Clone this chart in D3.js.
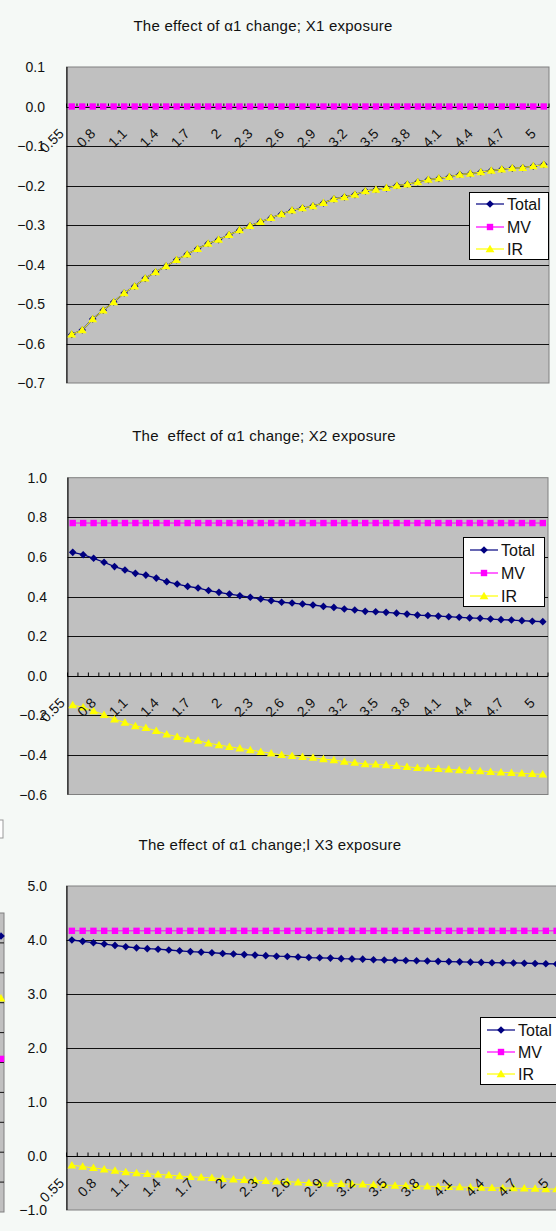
<!DOCTYPE html>
<html>
<head>
<meta charset="utf-8">
<script src="https://cdnjs.cloudflare.com/ajax/libs/d3/7.8.5/d3.min.js"></script>
<style>
body { margin:0; background:#f5f9f6; }
svg { display:block; }
text { font-family: "Liberation Sans", Arial, sans-serif; fill:#111; white-space: pre; }
</style>
</head>
<body>
<svg id="page" width="556" height="1231"></svg>
<script>
// alpha1 values on the category axis
var alphaCats = ["0.55","0.6","0.7","0.8","0.9","1","1.1","1.2","1.3","1.4","1.5","1.6","1.7","1.8","1.9",
  "2","2.1","2.2","2.3","2.4","2.5","2.6","2.7","2.8","2.9","3","3.1","3.2","3.3","3.4","3.5","3.6","3.7",
  "3.8","3.9","4","4.1","4.2","4.3","4.4","4.5","4.6","4.7","4.8","4.9","5"];
var seriesNames = ["Total","MV","IR"];

// X1 exposure
var x1Total = [-0.577,-0.566,-0.538,-0.516,-0.495,-0.472,-0.455,-0.435,-0.419,-0.404,-0.388,-0.374,-0.360,-0.347,-0.337,
  -0.325,-0.313,-0.302,-0.292,-0.282,-0.272,-0.263,-0.257,-0.252,-0.244,-0.234,-0.229,-0.223,-0.214,-0.210,-0.206,
  -0.200,-0.197,-0.191,-0.185,-0.182,-0.178,-0.172,-0.170,-0.166,-0.162,-0.159,-0.156,-0.155,-0.151,-0.147];
var x1MV = [0,0,0,0,0,0,0,0,0,0,0,0,0,0,0,0,0,0,0,0,0,0,0,0,0,0,0,0,0,0,0,0,0,0,0,0,0,0,0,0,0,0,0,0,0,0];
var x1IR = [-0.577,-0.566,-0.538,-0.516,-0.495,-0.472,-0.455,-0.435,-0.419,-0.404,-0.388,-0.374,-0.360,-0.347,-0.337,
  -0.325,-0.313,-0.302,-0.292,-0.282,-0.272,-0.263,-0.257,-0.252,-0.244,-0.234,-0.229,-0.223,-0.214,-0.210,-0.206,
  -0.200,-0.197,-0.191,-0.185,-0.182,-0.178,-0.172,-0.170,-0.166,-0.162,-0.159,-0.156,-0.155,-0.151,-0.147];

// X2 exposure
var x2Total = [0.623,0.611,0.593,0.573,0.551,0.534,0.517,0.508,0.493,0.475,0.463,0.451,0.443,0.430,0.421,0.412,
  0.404,0.396,0.387,0.379,0.371,0.367,0.362,0.357,0.350,0.345,0.337,0.332,0.325,0.323,0.320,0.316,0.311,0.306,
  0.304,0.301,0.298,0.295,0.292,0.290,0.286,0.283,0.281,0.278,0.275,0.273];
var x2MV = [0.771,0.771,0.771,0.771,0.771,0.771,0.771,0.771,0.771,0.771,0.771,0.771,0.771,0.771,0.771,0.771,
  0.771,0.771,0.771,0.771,0.771,0.771,0.771,0.771,0.771,0.771,0.771,0.771,0.771,0.771,0.771,0.771,0.771,0.771,
  0.771,0.771,0.771,0.771,0.771,0.771,0.771,0.771,0.771,0.771,0.771,0.771];
var x2IR = [-0.148,-0.160,-0.178,-0.198,-0.220,-0.237,-0.254,-0.263,-0.278,-0.296,-0.308,-0.320,-0.328,-0.341,-0.350,
  -0.359,-0.367,-0.375,-0.384,-0.392,-0.400,-0.404,-0.409,-0.414,-0.421,-0.426,-0.434,-0.439,-0.446,-0.448,-0.451,
  -0.455,-0.460,-0.465,-0.467,-0.470,-0.473,-0.476,-0.479,-0.481,-0.485,-0.488,-0.490,-0.493,-0.496,-0.498];

// X3 exposure
var x3Total = [4.000,3.975,3.950,3.925,3.900,3.875,3.855,3.840,3.830,3.815,3.800,3.785,3.775,3.765,3.750,3.740,
  3.730,3.720,3.710,3.700,3.695,3.685,3.675,3.670,3.665,3.655,3.650,3.645,3.635,3.630,3.625,3.620,3.615,3.610,
  3.605,3.600,3.595,3.590,3.585,3.580,3.578,3.575,3.570,3.565,3.560,3.556];
var x3MV = [4.17,4.17,4.17,4.17,4.17,4.17,4.17,4.17,4.17,4.17,4.17,4.17,4.17,4.17,4.17,4.17,4.17,4.17,4.17,4.17,
  4.17,4.17,4.17,4.17,4.17,4.17,4.17,4.17,4.17,4.17,4.17,4.17,4.17,4.17,4.17,4.17,4.17,4.17,4.17,4.17,4.17,4.17,
  4.17,4.17,4.17,4.17];
var x3IR = [-0.170,-0.195,-0.220,-0.245,-0.270,-0.295,-0.315,-0.330,-0.340,-0.355,-0.370,-0.385,-0.395,-0.405,-0.420,
  -0.430,-0.440,-0.450,-0.460,-0.470,-0.475,-0.485,-0.495,-0.500,-0.505,-0.515,-0.520,-0.525,-0.535,-0.540,-0.545,
  -0.550,-0.555,-0.560,-0.565,-0.570,-0.575,-0.580,-0.585,-0.590,-0.592,-0.595,-0.600,-0.605,-0.610,-0.614];

// sliver of a neighbouring chart at the left edge of the third screenshot
var sliverTicks = [0,1,2,3,4,5,6,7,8,9,10];
var sliverPoints = [{s:"Total", v:9.23}, {s:"IR", v:7.15}, {s:"MV", v:5.12}];

var colors = {Total:"#000080", MV:"#ff00ff", IR:"#ffff00"};
var shapes = {
  Total: "M0,-3.8L3.8,0L0,3.8L-3.8,0Z",
  MV: "M-3.2,-3.2H3.2V3.2H-3.2Z",
  IR: "M0,-4.3L4.4,3.2L-4.4,3.2Z"
};

var svg = d3.select("#page");

//------------- sliver on the left of chart 3 --------------
var sy = d3.scaleLinear().domain([0,10]).range([1212,913]);
var sliver = svg.append("g");
sliver.append("rect")
  .attr("x", -20).attr("y", sy(10))
  .attr("width", 24).attr("height", sy(0)-sy(10))
  .style("fill", "#c0c0c0").style("stroke", "#808080");
sliver.selectAll("line.g").data(sliverTicks.slice(1,10)).enter().append("line")
  .attr("x1", 0).attr("x2", 4)
  .attr("y1", function(d){ return sy(d); }).attr("y2", function(d){ return sy(d); })
  .style("stroke", "#111");
sliver.selectAll("path").data(sliverPoints).enter().append("path")
  .attr("d", function(d){ return shapes[d.s]; })
  .attr("transform", function(d){ return "translate(1," + sy(d.v) + ")"; })
  .style("fill", function(d){ return colors[d.s]; });
svg.append("rect").attr("x", -5).attr("y", 820).attr("width", 8).attr("height", 18)
  .style("fill", "#ffffff").style("stroke", "#9a9a9a");

function drawChart(cfg) {
  var g = svg.append("g");
  var x = d3.scaleBand().domain(alphaCats).range([cfg.left, cfg.right]).padding(0);
  var y = d3.scaleLinear().domain(cfg.domain).range([cfg.bottom, cfg.top]);
  var bw = x.bandwidth();
  var cx = function(i){ return x(alphaCats[i]) + bw/2; };
  var yTicks = y.ticks(cfg.nTicks);
  var fmt = d3.format(".1f");

  g.append("text")
    .attr("x", cfg.titleX).attr("y", cfg.titleY)
    .attr("text-anchor", "middle")
    .style("font-size", "15px").style("letter-spacing", "0.25px")
    .text(cfg.title);

  // plot area
  g.append("rect")
    .attr("x", cfg.left).attr("y", cfg.top)
    .attr("width", cfg.right-cfg.left).attr("height", cfg.bottom-cfg.top)
    .style("fill", "#c0c0c0").style("stroke", "#808080");

  g.selectAll("line.grid").data(yTicks.slice(1, yTicks.length-1)).enter().append("line")
    .attr("x1", cfg.left).attr("x2", cfg.right)
    .attr("y1", function(d){ return Math.round(y(d))+0.5; })
    .attr("y2", function(d){ return Math.round(y(d))+0.5; })
    .style("stroke", "#111");

  g.append("line")
    .attr("x1", cfg.left+0.5).attr("x2", cfg.left+0.5)
    .attr("y1", cfg.top).attr("y2", cfg.bottom)
    .style("stroke", "#000");

  g.selectAll("text.ylab").data(yTicks).enter().append("text")
    .attr("x", cfg.labelRight).attr("y", function(d){ return y(d); })
    .attr("dy", "0.36em").attr("text-anchor", "end")
    .style("font-size", "14px")
    .text(function(d){ return fmt(d); });

  // category axis crossing at zero
  var y0 = Math.round(y(0))+0.5;
  g.append("line").attr("x1", cfg.left).attr("x2", cfg.right).attr("y1", y0).attr("y2", y0)
    .style("stroke", "#000");
  g.selectAll("line.tick").data(alphaCats.concat(["end"])).enter().append("line")
    .attr("x1", function(d){ return d === "end" ? cfg.right : x(d); })
    .attr("x2", function(d){ return d === "end" ? cfg.right : x(d); })
    .attr("y1", y0).attr("y2", y0-4)
    .style("stroke", "#000");

  // series
  var series = [{name:"Total", vals:cfg.total}, {name:"MV", vals:cfg.mv}, {name:"IR", vals:cfg.ir}];
  var line = d3.line().x(function(d,i){ return cx(i); }).y(function(d){ return y(d); });
  series.forEach(function(s){
    g.append("path").attr("d", line(s.vals))
      .style("fill", "none").style("stroke", colors[s.name])
      .style("stroke-width", s.name === "Total" ? 1.3 : 1);
    g.selectAll("path.m" + s.name).data(s.vals).enter().append("path")
      .attr("d", shapes[s.name])
      .attr("transform", function(d,i){ return "translate(" + cx(i) + "," + y(d) + ")"; })
      .style("fill", colors[s.name]);
  });

  // category labels every third value
  g.selectAll("text.xlab").data(alphaCats.filter(function(d,i){ return i % 3 === 0; })).enter().append("text")
    .attr("text-anchor", "end")
    .attr("transform", function(d){ return "translate(" + (x(d)+bw/2-7) + "," + (y(0)+28) + ") rotate(-45)"; })
    .style("font-size", "14px")
    .text(function(d){ return d; });

  // legend
  var lg = g.append("g").attr("transform", "translate(" + cfg.legend.x + "," + cfg.legend.y + ")");
  lg.append("rect").attr("x", 0.5).attr("y", 0.5).attr("width", cfg.legend.w).attr("height", cfg.legend.h)
    .style("fill", "#ffffff").style("stroke", "#000");
  seriesNames.forEach(function(n, k){
    var ry = cfg.legend.rows[k];
    lg.append("line").attr("x1", 7).attr("x2", 35).attr("y1", ry).attr("y2", ry)
      .style("stroke", colors[n]).style("stroke-width", 1.2);
    lg.append("path").attr("d", shapes[n]).attr("transform", "translate(21," + ry + ")")
      .style("fill", colors[n]);
    lg.append("text").attr("x", 38).attr("y", ry).attr("dy", "0.36em")
      .style("font-size", "16px").text(n);
  });
}

drawChart({
  title: "The effect of \u03b11 change; X1 exposure", titleX: 263, titleY: 31,
  left: 66.5, right: 549, top: 67, bottom: 383, domain: [-0.7, 0.1], nTicks: 8, labelRight: 45,
  total: x1Total, mv: x1MV, ir: x1IR,
  legend: {x: 469, y: 192, w: 79, h: 67, rows: [12, 35, 57]}
});
drawChart({
  title: "The  effect of \u03b11 change; X2 exposure", titleX: 264, titleY: 441,
  left: 67.5, right: 548, top: 477.7, bottom: 794.5, domain: [-0.6, 1.0], nTicks: 8, labelRight: 47,
  total: x2Total, mv: x2MV, ir: x2IR,
  legend: {x: 463, y: 537, w: 81, h: 69, rows: [13, 36, 59]}
});
drawChart({
  title: "The effect of \u03b11 change;l X3 exposure", titleX: 270, titleY: 850,
  left: 66.5, right: 562, top: 886, bottom: 1210, domain: [-1, 5], nTicks: 6, labelRight: 47,
  total: x3Total, mv: x3MV, ir: x3IR,
  legend: {x: 480, y: 1017, w: 82, h: 67, rows: [13, 35, 57]}
});
</script>
</body>
</html>
